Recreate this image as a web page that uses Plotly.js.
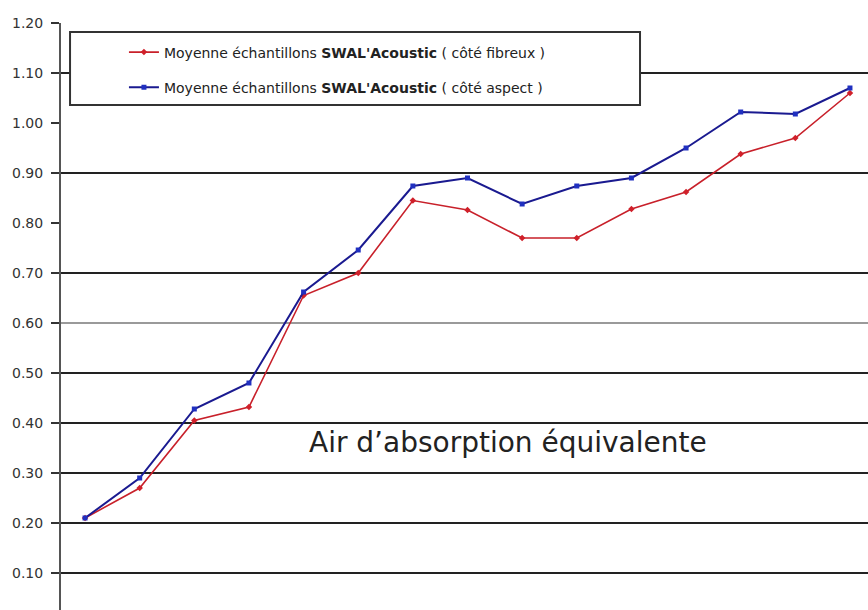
<!DOCTYPE html>
<html>
<head>
<meta charset="utf-8">
<script src="https://cdn.plot.ly/plotly-3.0.1.min.js"></script>
<style>html,body{margin:0;padding:0;background:#fff;overflow:hidden}</style>
</head>
<body>
<div id="chart" style="width:868px;height:610px"></div>
<script>
// Third-octave bands (x labels are cropped out of the reference)
const frequencies = ['100','125','160','200','250','315','400','500','630','800','1000','1250','1600','2000','2500'];
const fibreuxValues = [0.21, 0.27, 0.405, 0.432, 0.655, 0.70, 0.845, 0.826, 0.77, 0.77, 0.828, 0.862, 0.938, 0.97, 1.06];
const aspectValues  = [0.21, 0.29, 0.428, 0.48, 0.662, 0.746, 0.874, 0.89, 0.838, 0.874, 0.89, 0.95, 1.022, 1.018, 1.07];
const fibreuxName = "Moyenne échantillons <b>SWAL'Acoustic</b> ( côté fibreux )";
const aspectName  = "Moyenne échantillons <b>SWAL'Acoustic</b> ( côté aspect )";
const tickValues = [0.10, 0.20, 0.30, 0.40, 0.50, 0.60, 0.70, 0.80, 0.90, 1.00, 1.10, 1.20];
const gridLevels = [0.10, 0.20, 0.30, 0.40, 0.50, 0.60, 0.70, 0.90, 1.10];
const annotationText = "Air d’absorption équivalente";

const traces = [
  {x: frequencies, y: fibreuxValues, name: fibreuxName, legendgroup: 'g1', type: 'scatter', mode: 'lines+markers',
   line: {color: '#c8202a', width: 1.6}, marker: {symbol: 'diamond', size: 5, color: '#d0202a'}},
  {x: frequencies, y: aspectValues, name: aspectName, legendgroup: 'g2', type: 'scatter', mode: 'lines+markers',
   line: {color: '#1a1a90', width: 2}, marker: {symbol: 'square', size: 5, color: '#2030c0'}}
];

const shapes = gridLevels.map(v => ({
  type: 'line', xref: 'paper', x0: 0, x1: 1, yref: 'y', y0: v, y1: v, layer: 'below',
  line: {color: Math.abs(v - 0.6) < 1e-9 ? '#9a9a9a' : '#222', width: 2}
}));
shapes.push({type: 'rect', xref: 'paper', yref: 'paper', x0: 0.0112, x1: 0.7175, y0: 0.8603, y1: 0.9847,
  layer: 'above', fillcolor: '#fff', line: {color: '#333', width: 2}});

const layout = {
  width: 868, height: 610,
  margin: {l: 61, r: 0, t: 23, b: 0, pad: 0},
  paper_bgcolor: '#fff', plot_bgcolor: '#fff',
  showlegend: true,
  legend: {x: 0.078, xanchor: 'left', y: 0.977, yanchor: 'top', bgcolor: 'rgba(0,0,0,0)', borderwidth: 0,
    font: {family: 'DejaVu Sans', size: 14, color: '#222'}, tracegroupgap: 14, traceorder: 'grouped'},
  xaxis: {type: 'category', range: [-0.44, 14.33], showticklabels: false, showgrid: false, zeroline: false,
    showline: false, ticks: '', fixedrange: true},
  yaxis: {range: [0.026, 1.2], tickvals: tickValues, ticktext: tickValues.map(v => v.toFixed(2)),
    showgrid: false, zeroline: false, showline: true, linecolor: '#555', linewidth: 2,
    ticks: 'outside', ticklen: 8, tickwidth: 1.5, tickcolor: '#333', ticklabelstandoff: 5,
    tickfont: {family: 'DejaVu Sans', size: 14, color: '#333'}, fixedrange: true},
  shapes: shapes,
  annotations: [{text: annotationText, xref: 'paper', yref: 'paper', x: 0.554, y: 0.2862,
    xanchor: 'center', yanchor: 'middle', showarrow: false,
    font: {family: 'DejaVu Sans', size: 28, color: '#222'}}]
};

Plotly.newPlot('chart', traces, layout, {displayModeBar: false, staticPlot: true});
</script>
</body>
</html>
